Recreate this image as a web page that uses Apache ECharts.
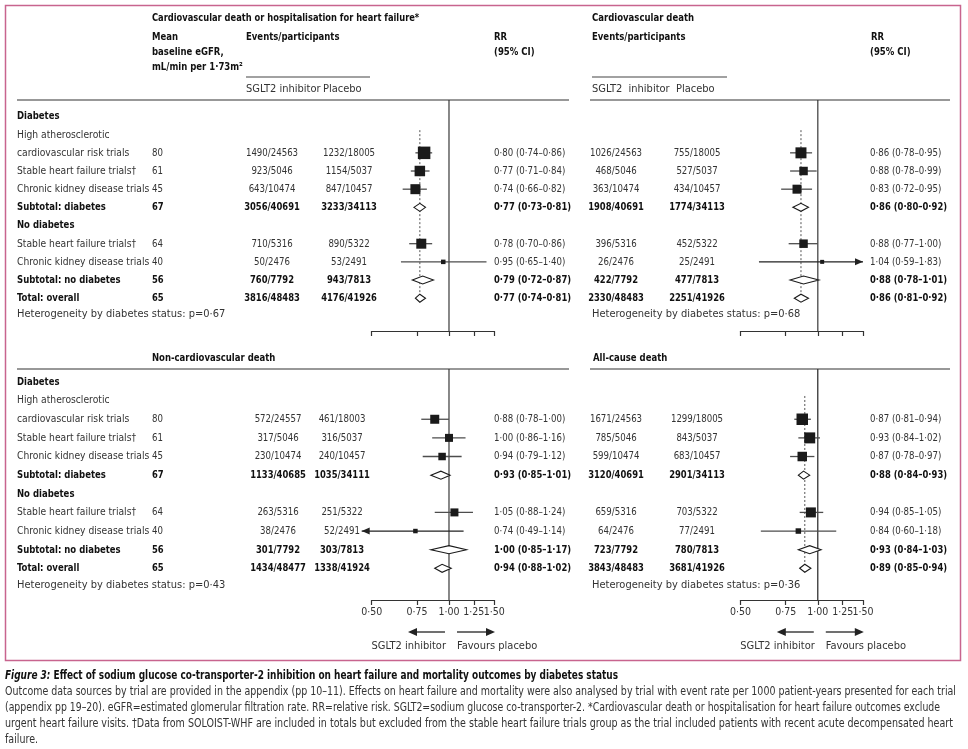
<!DOCTYPE html>
<html><head><meta charset="utf-8">
<script src="https://cdn.jsdelivr.net/npm/echarts@6/dist/echarts.min.js"></script>
<style>html,body{margin:0;padding:0;background:#fff}#c{width:968px;height:749px}</style>
</head><body><div id="c"></div>
<script>
// ---------------- DATA ----------------
const rowLabels = ['Diabetes','High atherosclerotic','cardiovascular risk trials','Stable heart failure trials†','Chronic kidney disease trials','Subtotal: diabetes','No diabetes','Stable heart failure trials†','Chronic kidney disease trials','Subtotal: no diabetes','Total: overall'];
const boldRows = [0,5,6,9,10];
const eGFR = ['', '', '80','61','45','67','', '64','40','56','65'];
const estimateRows = [2,3,4,5,7,8,9,10];
const estimateKind = ['trial','trial','trial','subtotal','trial','trial','subtotal','total'];
const tickValues = [0.5,0.75,1,1.25,1.5];

const cvHhfTitle = 'Cardiovascular death or hospitalisation for heart failure*';
const cvHhfSglt2 = ['1490/24563','923/5046','643/10474','3056/40691','710/5316','50/2476','760/7792','3816/48483'];
const cvHhfPlacebo = ['1232/18005','1154/5037','847/10457','3233/34113','890/5322','53/2491','943/7813','4176/41926'];
const cvHhfRR = [0.80,0.77,0.74,0.77,0.78,0.95,0.79,0.77];
const cvHhfLo = [0.74,0.71,0.66,0.73,0.70,0.65,0.72,0.74];
const cvHhfHi = [0.86,0.84,0.82,0.81,0.86,1.40,0.87,0.81];
const cvHhfWeight = [12.5,10.5,10,0,10,4.5,0,0];
const cvHhfHet = 'p=0·67';

const cvdTitle = 'Cardiovascular death';
const cvdSglt2 = ['1026/24563','468/5046','363/10474','1908/40691','396/5316','26/2476','422/7792','2330/48483'];
const cvdPlacebo = ['755/18005','527/5037','434/10457','1774/34113','452/5322','25/2491','477/7813','2251/41926'];
const cvdRR = [0.86,0.88,0.83,0.86,0.88,1.04,0.88,0.86];
const cvdLo = [0.78,0.78,0.72,0.80,0.77,0.59,0.78,0.81];
const cvdHi = [0.95,0.99,0.95,0.92,1.00,1.83,1.01,0.92];
const cvdWeight = [11,8.5,9,0,8.5,4,0,0];
const cvdHet = 'p=0·68';

const ncvdTitle = 'Non-cardiovascular death';
const ncvdSglt2 = ['572/24557','317/5046','230/10474','1133/40685','263/5316','38/2476','301/7792','1434/48477'];
const ncvdPlacebo = ['461/18003','316/5037','240/10457','1035/34111','251/5322','52/2491','303/7813','1338/41924'];
const ncvdRR = [0.88,1.00,0.94,0.93,1.05,0.74,1.00,0.94];
const ncvdLo = [0.78,0.86,0.79,0.85,0.88,0.49,0.85,0.88];
const ncvdHi = [1.00,1.16,1.12,1.01,1.24,1.14,1.17,1.02];
const ncvdWeight = [9,8,7.5,0,8,4.5,0,0];
const ncvdHet = 'p=0·43';

const acdTitle = 'All-cause death';
const acdSglt2 = ['1671/24563','785/5046','599/10474','3120/40691','659/5316','64/2476','723/7792','3843/48483'];
const acdPlacebo = ['1299/18005','843/5037','683/10457','2901/34113','703/5322','77/2491','780/7813','3681/41926'];
const acdRR = [0.87,0.93,0.87,0.88,0.94,0.84,0.93,0.89];
const acdLo = [0.81,0.84,0.78,0.84,0.85,0.60,0.84,0.85];
const acdHi = [0.94,1.02,0.97,0.93,1.05,1.18,1.03,0.94];
const acdWeight = [11.5,11,9.5,0,10,5.5,0,0];
const acdHet = 'p=0·36';

const captionTitleA = 'Figure 3: ';
const captionTitleB = 'Effect of sodium glucose co-transporter-2 inhibition on heart failure and mortality outcomes by diabetes status';
const captionLines = [
 'Outcome data sources by trial are provided in the appendix (pp 10–11). Effects on heart failure and mortality were also analysed by trial with event rate per 1000 patient-years presented for each trial',
 '(appendix pp 19–20). eGFR=estimated glomerular filtration rate. RR=relative risk. SGLT2=sodium glucose co-transporter-2. *Cardiovascular death or hospitalisation for heart failure outcomes exclude',
 'urgent heart failure visits. †Data from SOLOIST-WHF are included in totals but excluded from the stable heart failure trials group as the trial included patients with recent acute decompensated heart',
 'failure.'
];

const panels = [
 {title: cvHhfTitle, sglt2: cvHhfSglt2, placebo: cvHhfPlacebo, rr: cvHhfRR, lo: cvHhfLo, hi: cvHhfHi, w: cvHhfWeight, het: cvHhfHet, dotted: true},
 {title: cvdTitle, sglt2: cvdSglt2, placebo: cvdPlacebo, rr: cvdRR, lo: cvdLo, hi: cvdHi, w: cvdWeight, het: cvdHet, dotted: true},
 {title: ncvdTitle, sglt2: ncvdSglt2, placebo: ncvdPlacebo, rr: ncvdRR, lo: ncvdLo, hi: ncvdHi, w: ncvdWeight, het: ncvdHet, dotted: false},
 {title: acdTitle, sglt2: acdSglt2, placebo: acdPlacebo, rr: acdRR, lo: acdLo, hi: acdHi, w: acdWeight, het: acdHet, dotted: true}
];

// ---------------- LAYOUT ----------------
const FONT = '"Liberation Sans Narrow","Arial Narrow","DejaVu Sans Condensed",sans-serif';
const GRID_W = 122.5, GRID_H = 231;
const layout = [
 {left:371.7, top:100, titleX:152, titleY:18, evX:[272,349], rrX:494, hetX:17, refColor:'#6a6a6a', refW:1.6},
 {left:740.5, top:100, titleX:592, titleY:18, evX:[616,697], rrX:870, hetX:592, refColor:'#555', refW:1.4},
 {left:371.7, top:369, titleX:152, titleY:358, evX:[278,342], rrX:494, hetX:17, refColor:'#6a6a6a', refW:1.6},
 {left:740.5, top:369, titleX:593, titleY:358, evX:[616,697], rrX:870, hetX:592, refColor:'#222', refW:1.2}
];
const rowGeom = [{base:116.5, step:18.17},{base:116.5, step:18.17},{base:382, step:18.63},{base:382, step:18.63}];
function yRange(k){ const g=rowGeom[k], t=layout[k].top; return [(t-g.base)/g.step, (t+GRID_H-g.base)/g.step]; }
const fmt = v => v.toFixed(2).replace('.', '·');

function renderForest(params, api) {
  const est = api.value(0), r = api.value(1), lo = api.value(2), hi = api.value(3), kind = api.value(4), sz = api.value(5);
  const y = api.coord([1, r])[1];
  const xe = api.coord([est, r])[0];
  const children = [];
  if (kind === 0) {
    const arrowL = lo < 0.5, arrowR = hi > 1.5;
    let x1 = api.coord([Math.max(lo, 0.5), r])[0];
    let x2 = api.coord([Math.min(hi, 1.5), r])[0];
    const color = (arrowL || arrowR) ? '#222' : '#4d4d4d';
    if (arrowL) x1 -= 10;
    children.push({type:'line', shape:{x1:x1, y1:y, x2:x2, y2:y}, style:{stroke:color, lineWidth:1.3}});
    if (arrowR) children.push({type:'polygon', shape:{points:[[x2,y],[x2-8,y-3.5],[x2-8,y+3.5]]}, style:{fill:color}});
    if (arrowL) children.push({type:'polygon', shape:{points:[[x1,y],[x1+8,y-3.5],[x1+8,y+3.5]]}, style:{fill:color}});
    children.push({type:'rect', shape:{x:xe-sz/2, y:y-sz/2, width:sz, height:sz}, style:{fill:'#1a1a1a'}});
  } else {
    const xl = api.coord([lo, r])[0], xh = api.coord([hi, r])[0];
    children.push({type:'polygon', shape:{points:[[xl,y],[xe,y-4],[xh,y],[xe,y+4]]}, style:{fill:'#fff', stroke:'#1a1a1a', lineWidth:1.1}});
  }
  return {type:'group', children: children};
}

// labels split over two axes sharing a grid so neighbouring labels are never auto-hidden
const labelSetA = tickValues.filter((v,i) => i % 2 === 0);
const labelSetB = tickValues.filter((v,i) => i % 2 === 1);
function labelCfg(show, values) {
  return {show:show, customValues:values, interval:0, formatter:v=>fmt(v), margin:7, fontSize:10.5, color:'#333', fontFamily:FONT, hideOverlap:false};
}

const grids = [], xAxes = [], yAxes = [], series = [];
panels.forEach((p, k) => {
  const L = layout[k], yr = yRange(k);
  grids.push({left:L.left, top:L.top, width:GRID_W, height:GRID_H, containLabel:false});
  xAxes.push({
    type:'log', logBase:10, gridIndex:k, min:0.5, max:1.5, position:'bottom',
    axisLine:{show:true, onZero:false, lineStyle:{color:'#333', width:1.2}},
    axisTick:{show:true, length:5, inside:false, customValues:tickValues, lineStyle:{color:'#333', width:1.2}},
    axisLabel:labelCfg(k>=2, labelSetA),
    splitLine:{show:false}, minorTick:{show:false}
  });
  yAxes.push({type:'value', gridIndex:k, inverse:true, min:yr[0], max:yr[1], show:false, splitLine:{show:false}});
  series.push({type:'line', xAxisIndex:k, yAxisIndex:k, data:[[1, yr[0]],[1, yr[1]]], symbol:'none', silent:true,
    lineStyle:{color:L.refColor, width:L.refW}, z:1});
  const overall = p.rr[p.rr.length-1];
  if (p.dotted) series.push({type:'line', xAxisIndex:k, yAxisIndex:k, data:[[overall, 0.75],[overall, 10]], symbol:'none', silent:true,
    lineStyle:{color:'#555', width:1, type:[2,2]}, z:1});
  series.push({
    type:'custom', xAxisIndex:k, yAxisIndex:k, renderItem:renderForest, encode:{x:0, y:1}, z:3, silent:true,
    data: p.rr.map((v,i) => [v, estimateRows[i], p.lo[i], p.hi[i], estimateKind[i]==='trial'?0:1, p.w[i]])
  });
});
[2, 3].forEach(k => {
  xAxes.push({
    type:'log', logBase:10, gridIndex:k, min:0.5, max:1.5, position:'bottom', offset:0,
    axisLine:{show:false, onZero:false}, axisTick:{show:false},
    axisLabel:labelCfg(true, labelSetB), splitLine:{show:false}, minorTick:{show:false}
  });
});

const chart = echarts.init(document.getElementById('c'), null, {renderer:'canvas'});
chart.setOption({animation:false, backgroundColor:'#fff', grid:grids, xAxis:xAxes, yAxis:yAxes, series:series});

// ---------------- TEXT / DECORATION ----------------
function txt(text, x, y, o) {
  o = o || {};
  const font = (o.italic?'italic ':'') + (o.bold?'bold ':'') + (o.size||11) + 'px ' + FONT;
  const align = o.align || 'left';
  const sx = o.scaleX || (o.bold ? (o.num ? 0.85 : 0.86) : (o.num ? 0.87 : 1));
  return {type:'text', x:x, y:y, silent:true, z:10, scaleX:sx,
    style:{text:text, x:0, y:0, font:font, fill:o.color || (o.bold?'#111':'#333'), align:align, textAlign:align, verticalAlign:'middle', textVerticalAlign:'middle'}};
}
function hline(x1, x2, y, color, w) {
  return {type:'line', silent:true, z:10, shape:{x1:x1, y1:y, x2:x2, y2:y}, style:{stroke:color||'#333', lineWidth:w||1.2}};
}
const mctx = document.createElement('canvas').getContext('2d');
function measure(text, font){ mctx.font = font; return mctx.measureText(text).width; }

const g = [];
g.push({type:'rect', silent:true, z:0, shape:{x:5.5, y:5.5, width:955, height:655}, style:{fill:'none', stroke:'#c8648e', lineWidth:1.5}});

// header
g.push(txt(cvHhfTitle, 152, 18, {bold:true, scaleX:0.84}));
g.push(txt('Mean', 152, 37, {bold:true}));
g.push(txt('baseline eGFR,', 152, 52, {bold:true}));
g.push(txt('mL/min per 1·73m²', 152, 67, {bold:true}));
g.push(txt('Events/participants', 246, 37, {bold:true}));
g.push(hline(246, 370, 77, '#444', 1.2));
g.push(txt('SGLT2 inhibitor', 246, 89));
g.push(txt('Placebo', 323, 89));
g.push(txt('RR', 494, 37, {bold:true}));
g.push(txt('(95% CI)', 494, 52, {bold:true}));
g.push(txt(cvdTitle, 592, 18, {bold:true}));
g.push(txt('Events/participants', 592, 37, {bold:true}));
g.push(hline(592, 727, 77, '#444', 1.2));
g.push(txt('SGLT2  inhibitor', 592, 89));
g.push(txt('Placebo', 676, 89));
g.push(txt('RR', 871, 37, {bold:true}));
g.push(txt('(95% CI)', 870, 52, {bold:true}));
g.push(hline(17, 569, 100)); g.push(hline(590, 950, 100));
g.push(txt(ncvdTitle, 152, 358, {bold:true}));
g.push(txt(acdTitle, 593, 358, {bold:true}));
g.push(hline(17, 569, 369)); g.push(hline(590, 950, 369));

function rowPix(k, r){ return chart.convertToPixel({gridIndex:k}, [1, r])[1]; }

[0, 2].forEach(k => {
  rowLabels.forEach((lab, r) => {
    const y = rowPix(k, r), b = boldRows.indexOf(r) >= 0;
    g.push(txt(lab, 17, y, b ? {bold:true} : {scaleX:0.93}));
    if (eGFR[r]) g.push(txt(eGFR[r], 152, y, {bold:b, num:true}));
  });
});

panels.forEach((p, k) => {
  const L = layout[k];
  p.rr.forEach((v, i) => {
    const y = rowPix(k, estimateRows[i]), b = estimateKind[i] !== 'trial';
    g.push(txt(p.sglt2[i], L.evX[0], y, {bold:b, num:true, align:'center'}));
    g.push(txt(p.placebo[i], L.evX[1], y, {bold:b, num:true, align:'center'}));
    g.push(txt(fmt(v) + ' (' + fmt(p.lo[i]) + '–' + fmt(p.hi[i]) + ')', L.rrX, y, {bold:b, num:true}));
  });
  g.push(txt('Heterogeneity by diabetes status: ' + p.het, L.hetX, rowPix(k, 10.9)));
  if (k >= 2) {
    const x1 = chart.convertToPixel({gridIndex:k}, [1, 0])[0];
    const ya = 632, yt = 646;
    g.push({type:'line', silent:true, z:10, shape:{x1:x1-4, y1:ya, x2:x1-33, y2:ya}, style:{stroke:'#333', lineWidth:1.4}});
    g.push({type:'polygon', silent:true, z:10, shape:{points:[[x1-41,ya],[x1-32,ya-4],[x1-32,ya+4]]}, style:{fill:'#222'}});
    g.push({type:'line', silent:true, z:10, shape:{x1:x1+8, y1:ya, x2:x1+38, y2:ya}, style:{stroke:'#333', lineWidth:1.4}});
    g.push({type:'polygon', silent:true, z:10, shape:{points:[[x1+46,ya],[x1+37,ya-4],[x1+37,ya+4]]}, style:{fill:'#222'}});
    g.push(txt('SGLT2 inhibitor', x1-3, yt, {align:'right'}));
    g.push(txt('Favours placebo', x1+8, yt));
  }
});

// caption
const capSize = 11.5;
const fA = 'italic bold ' + capSize + 'px ' + FONT, fB = 'bold ' + capSize + 'px ' + FONT, fN = capSize + 'px ' + FONT;
const wA = measure(captionTitleA, fA), wB = measure(captionTitleB, fB);
const s1 = 613 / (wA + wB);
g.push({type:'text', x:5, y:676, scaleX:s1, silent:true, z:10, style:{text:captionTitleA, font:fA, fill:'#111', align:'left', verticalAlign:'middle', textAlign:'left', textVerticalAlign:'middle'}});
g.push({type:'text', x:5 + wA*s1, y:676, scaleX:s1, silent:true, z:10, style:{text:captionTitleB, font:fB, fill:'#111', align:'left', verticalAlign:'middle', textAlign:'left', textVerticalAlign:'middle'}});
const capWidths = [951, 935, 948, 33];
const capY = [692, 708, 724, 740];
captionLines.forEach((line, i) => {
  const s = capWidths[i] / measure(line, fN);
  g.push({type:'text', x:5, y:capY[i], scaleX:s, silent:true, z:10, style:{text:line, font:fN, fill:'#333', align:'left', verticalAlign:'middle', textAlign:'left', textVerticalAlign:'middle'}});
});

chart.setOption({graphic:{elements:g}});
</script>
</body></html>
